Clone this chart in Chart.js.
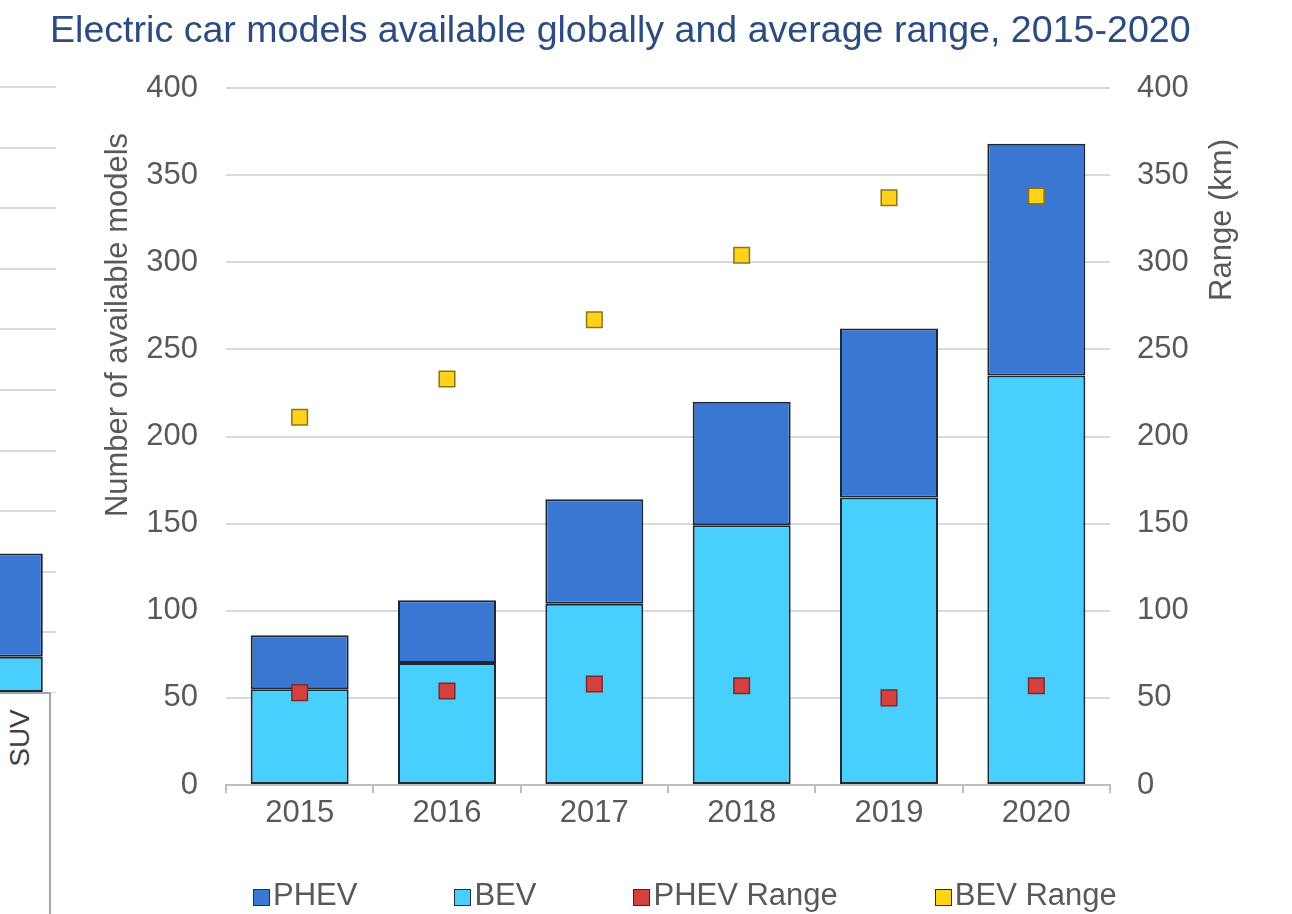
<!DOCTYPE html>
<html>
<head>
<meta charset="utf-8">
<script src="https://cdn.jsdelivr.net/npm/chart.js@4.4.1/dist/chart.umd.min.js"></script>
<style>
  html, body { margin: 0; padding: 0; background: #fff; }
  #wrap { position: relative; width: 1292px; height: 914px; overflow: hidden; font-family: "Liberation Sans", Arial, sans-serif; }
  #main { position: absolute; left: 0; top: 0; width: 1292px; height: 914px; }
  #side { position: absolute; left: 0; top: 0; width: 56px; height: 693px; overflow: hidden; }
  #sideInner { position: absolute; left: -54px; top: 0; width: 110px; height: 693px; }
  #suvBox { position: absolute; left: -4px; top: 692px; width: 55px; height: 240px; border: 2px solid #a6a6a6; background: #fff; box-sizing: border-box; }
  #suvBox span { position: absolute; left: 22px; top: 44px; transform: translate(-50%, -50%) rotate(-90deg); font-size: 28px; color: #404040; }
  #legend { position: absolute; left: 253px; top: 877px; display: flex; gap: 97px; font-size: 31px; color: #595959; }
  #legend .item { display: flex; align-items: center; }
  #legend .box { width: 15px; height: 15px; border: 1.5px solid #2a2f36; margin-right: 3px; margin-top: 5px; }
</style>
</head>
<body>
<div id="wrap">
  <div id="main"><canvas id="chart"></canvas></div>
  <div id="side"><div id="sideInner"><canvas id="sideChart"></canvas></div></div>
  <div id="suvBox"><span>SUV</span></div>
  <div id="legend"></div>
</div>
<script>
// data
const years = ['2015', '2016', '2017', '2018', '2019', '2020'];
const bevModels = [55, 70, 104, 149, 165, 235];
const phevModels = [31, 36, 60, 71, 97, 133];
const phevRange = [53, 54, 58, 57, 50, 57];
const bevRange = [211, 233, 267, 304, 337, 338];

// cut-off neighbouring chart on the left
const sideCats = ['SUV'];
const sideBev = [6];
const sidePhev = [17];

const titleText = 'Electric car models available globally and average range, 2015-2020';
const leftTitle = 'Number of available models';
const rightTitle = 'Range (km)';

const C = {
  bev: '#48cffd', phev: '#3a77d2', edge: '#1e2834',
  red: '#d43f3f', redEdge: '#7c2a2a', yellow: '#ffd21c', yellowEdge: '#8f7412',
  grid: '#d9d9d9', axis: '#bfbfbf', text: '#595959', title: '#2b4c80'
};
const FONT = '"Liberation Sans", Arial, sans-serif';
Chart.defaults.font.family = FONT;
Chart.defaults.color = C.text;

const textPlugin = {
  id: 'texts',
  afterDraw(chart) {
    const ctx = chart.ctx;
    ctx.save();
    ctx.fillStyle = C.title;
    ctx.font = '37.6px ' + FONT;
    ctx.textAlign = 'left';
    ctx.textBaseline = 'alphabetic';
    ctx.fillText(titleText, 50, 42);

    ctx.fillStyle = C.text;
    ctx.font = '31px ' + FONT;
    ctx.textAlign = 'center';
    ctx.textBaseline = 'middle';
    [[leftTitle, 118, 325], [rightTitle, 1222, 220]].forEach(([t, x, y]) => {
      ctx.save();
      ctx.translate(x, y);
      ctx.rotate(-Math.PI / 2);
      ctx.fillText(t, 0, 0);
      ctx.restore();
    });
    ctx.restore();
  }
};

const chart = new Chart(document.getElementById('chart'), {
  type: 'bar',
  data: {
    labels: years,
    datasets: [
      { label: 'PHEV Range', type: 'line', data: phevRange, yAxisID: 'y1', showLine: false, order: 1,
        pointStyle: 'rect', pointRadius: 11, pointHoverRadius: 11, pointBorderWidth: 1.5,
        backgroundColor: C.red, borderColor: C.redEdge },
      { label: 'BEV Range', type: 'line', data: bevRange, yAxisID: 'y1', showLine: false, order: 1,
        pointStyle: 'rect', pointRadius: 11, pointHoverRadius: 11, pointBorderWidth: 1.5,
        backgroundColor: C.yellow, borderColor: C.yellowEdge },
      { label: 'BEV', data: bevModels, backgroundColor: C.bev, borderColor: C.edge, borderWidth: 2,
        borderSkipped: false, barPercentage: 0.665, categoryPercentage: 1, order: 2 },
      { label: 'PHEV', data: phevModels, backgroundColor: C.phev, borderColor: C.edge, borderWidth: 2,
        borderSkipped: false, barPercentage: 0.665, categoryPercentage: 1, order: 2 }
    ]
  },
  options: {
    responsive: true,
    maintainAspectRatio: false,
    animation: false,
    layout: { padding: { top: 88, bottom: 0, left: 0, right: 0 } },
    plugins: { legend: { display: false }, title: { display: false }, tooltip: { enabled: false } },
    scales: {
      x: {
        stacked: true,
        grid: { drawOnChartArea: false, drawTicks: true, tickLength: 8, color: C.axis, lineWidth: 2 },
        border: { display: true, color: C.axis, width: 2 },
        ticks: { font: { size: 31 }, padding: 2, color: C.text },
        afterFit(s) { s.height = 129; }
      },
      y: {
        stacked: true, min: 0, max: 400,
        grid: { color: C.grid, lineWidth: 2, drawTicks: false },
        border: { display: false },
        ticks: { stepSize: 50, font: { size: 31 }, padding: 28, color: C.text },
        afterFit(s) { s.width = 226; }
      },
      y1: {
        position: 'right', min: 0, max: 400,
        grid: { display: false, drawTicks: false },
        border: { display: false },
        ticks: { stepSize: 50, font: { size: 31 }, padding: 27, color: C.text },
        afterFit(s) { s.width = 182; }
      }
    }
  },
  plugins: [textPlugin]
});

// legend built from the chart's datasets, in the reference order
const legendOrder = ['PHEV', 'BEV', 'PHEV Range', 'BEV Range'];
const legendEl = document.getElementById('legend');
legendOrder.forEach(name => {
  const ds = chart.data.datasets.find(d => d.label === name);
  const item = document.createElement('div');
  item.className = 'item';
  const box = document.createElement('span');
  box.className = 'box';
  box.style.background = ds.backgroundColor;
  const txt = document.createElement('span');
  txt.textContent = name;
  item.appendChild(box);
  item.appendChild(txt);
  legendEl.appendChild(item);
});

new Chart(document.getElementById('sideChart'), {
  type: 'bar',
  data: {
    labels: sideCats,
    datasets: [
      { data: sideBev, backgroundColor: C.bev, borderColor: C.edge, borderWidth: 2, borderSkipped: false,
        barPercentage: 0.76, categoryPercentage: 1 },
      { data: sidePhev, backgroundColor: C.phev, borderColor: C.edge, borderWidth: 2, borderSkipped: false,
        barPercentage: 0.76, categoryPercentage: 1 }
    ]
  },
  options: {
    responsive: true,
    maintainAspectRatio: false,
    animation: false,
    layout: { padding: { top: 87, bottom: 0, left: 0, right: 0 } },
    plugins: { legend: { display: false }, tooltip: { enabled: false } },
    scales: {
      x: { stacked: true, display: false },
      y: {
        stacked: true, min: 0, max: 100,
        grid: { color: C.grid, lineWidth: 2, drawTicks: false },
        border: { display: false },
        ticks: { display: false, stepSize: 10 },
        afterFit(s) { s.width = 0; }
      }
    }
  }
});
</script>
</body>
</html>
